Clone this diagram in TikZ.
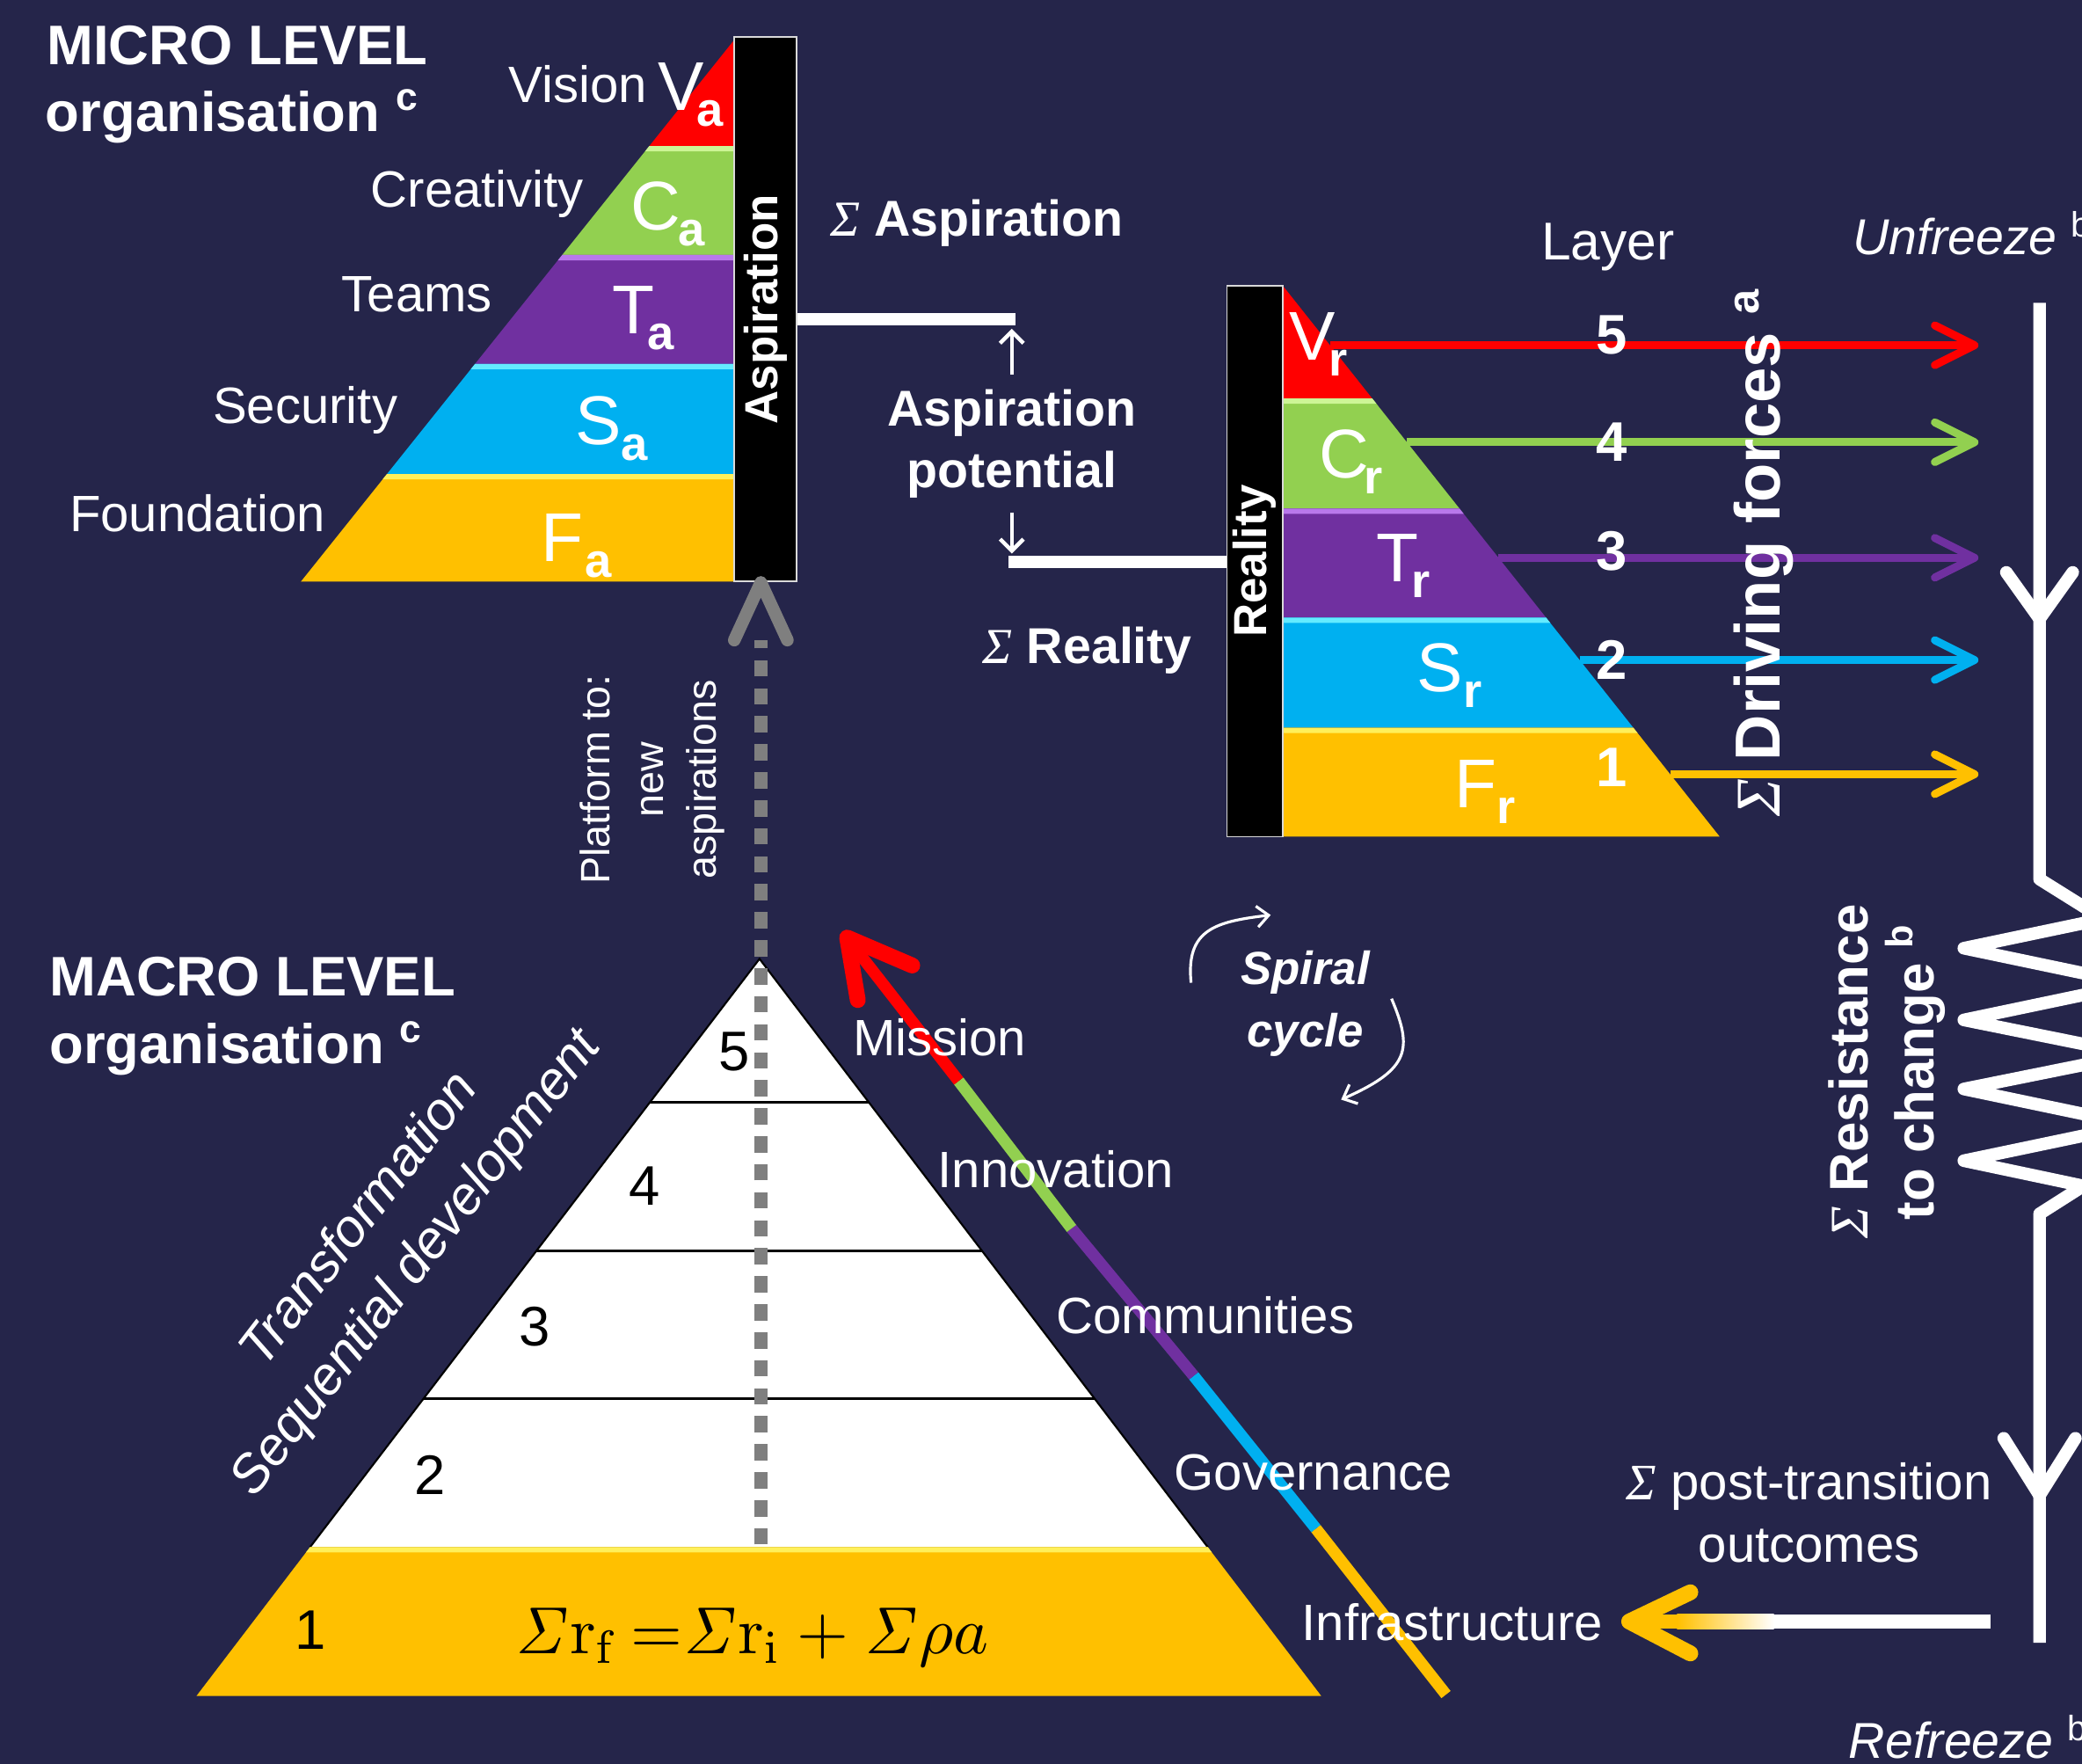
\documentclass[tikz,border=0pt]{standalone}
\usepackage[no-math]{fontspec}
\setmainfont{Liberation Sans}
\newfontfamily\sigfont{Liberation Serif}
\usepackage{graphicx}
\usetikzlibrary{arrows.meta}
\definecolor{bg}{RGB}{37,37,74}
\definecolor{cred}{RGB}{255,0,0}
\definecolor{cgreen}{RGB}{146,208,80}
\definecolor{cpurple}{RGB}{112,48,160}
\definecolor{cblue}{RGB}{0,176,240}
\definecolor{cyellow}{RGB}{255,192,0}
\definecolor{hgreen}{RGB}{205,245,150}
\definecolor{hpurple}{RGB}{185,120,235}
\definecolor{hblue}{RGB}{100,235,255}
\definecolor{hyellow}{RGB}{255,240,90}
\definecolor{cgray}{RGB}{127,127,127}
\newcommand\Sig{{\sigfont\mdseries\itshape Σ}}
\newcommand\LL[3]{{\fontsize{29.6}{30}\selectfont #1}\kern#3\raisebox{-6.8pt}{\fontsize{20.5}{21}\selectfont\bfseries #2}}
\tikzset{
 lab/.style={text=white, inner sep=0pt, font=\fontsize{21.9}{26.5}\selectfont},
 blab/.style={text=white, inner sep=0pt, font=\bfseries\fontsize{21.6}{26.5}\selectfont},
 headtxt/.style={text=white, inner sep=0pt, anchor=base west, font=\bfseries\fontsize{23.9}{28}\selectfont},
 letter/.style={text=white, inner sep=0pt, anchor=base west},
 barbox/.style={fill=black, draw=white!85!black, line width=0.7pt, inner sep=0pt},
 bartext/.style={text=white, inner sep=0pt, font=\bfseries\fontsize{19.9}{22}\selectfont, rotate=90},
 wline/.style={white, line width=5.1pt},
 thinarr/.style={white, line width=1.7pt, -{Straight Barb[length=5pt,width=10pt]}},
 farrow/.style={line width=3.4pt, -{Straight Barb[length=17pt,width=17pt,round]}},
 chev/.style={line cap=round, line join=round},
 lnum/.style={text=white, inner sep=0pt, font=\bfseries\fontsize{23.9}{26}\selectfont},
 mnum/.style={text=black, inner sep=0pt, font=\fontsize{23.9}{26}\selectfont},
 spir/.style={white, line width=1.2pt, -{Straight Barb[length=5pt,width=9pt]}},
}
\begin{document}
\begin{tikzpicture}[x=0.02cm,y=-0.02cm]
\useasboundingbox (0,0) rectangle (1568,1328);
\fill[bg] (0,0) rectangle (1568,1328);
\begin{scope}
\clip (0,0) rectangle (1568,1328);
% ---------------- MICRO pyramid
\fill[cred] (553,30) -- (553,110) -- (489,110) -- cycle;
\fill[cgreen] (489,110) -- (553,110) -- (553,192) -- (423.4,192) -- cycle;
\fill[cpurple] (423.4,192) -- (553,192) -- (553,274) -- (357.8,274) -- cycle;
\fill[cblue] (357.8,274) -- (553,274) -- (553,357) -- (291.4,357) -- cycle;
\fill[cyellow] (291.4,357) -- (553,357) -- (553,438) -- (226.6,438) -- cycle;
\fill[hgreen] (489,110) -- (553,110) -- (553,114) -- (485.8,114) -- cycle;
\fill[hpurple] (423.4,192) -- (553,192) -- (553,196) -- (420.2,196) -- cycle;
\fill[hblue] (357.8,274) -- (553,274) -- (553,278) -- (354.6,278) -- cycle;
\fill[hyellow] (291.4,357) -- (553,357) -- (553,361) -- (288.2,361) -- cycle;
\node[barbox, minimum width=26.7pt, minimum height=233.3pt] (asp) at (576.5,233) {};
\node[bartext] at (asp.center) {Aspiration};
\node[letter] at (495,83) {\LL{V}{a}{-3pt}};
\node[letter] at (475,173) {\LL{C}{a}{-1pt}};
\node[letter] at (461,251) {\LL{T}{a}{-3pt}};
\node[letter] at (433,335) {\LL{S}{a}{0pt}};
\node[letter] at (407,423) {\LL{F}{a}{1pt}};
\node[lab, anchor=base west] at (383,77) {Vision};
\node[lab, anchor=base west] at (279,156) {Creativity};
\node[lab, anchor=base west] at (257,235) {Teams};
\node[lab, anchor=base west] at (160,319) {Security};
\node[lab, anchor=base west] at (52,400) {Foundation};
\node[headtxt] at (35,49) {MICRO LEVEL};
\node[headtxt] at (34,99) {organisation \textsuperscript{c}};
% ---------------- REALITY pyramid
\fill[cred] (966,215) -- (1033.4,300) -- (966,300) -- cycle;
\fill[cgreen] (966,300) -- (1033.4,300) -- (1099.2,383) -- (966,383) -- cycle;
\fill[cpurple] (966,383) -- (1099.2,383) -- (1164.3,465) -- (966,465) -- cycle;
\fill[cblue] (966,465) -- (1164.3,465) -- (1230.1,548) -- (966,548) -- cycle;
\fill[cyellow] (966,548) -- (1230.1,548) -- (1295.1,630) -- (966,630) -- cycle;
\fill[hgreen] (966,300) -- (1033.4,300) -- (1036.6,304) -- (966,304) -- cycle;
\fill[hpurple] (966,383) -- (1099.2,383) -- (1102.4,387) -- (966,387) -- cycle;
\fill[hblue] (966,465) -- (1164.3,465) -- (1167.5,469) -- (966,469) -- cycle;
\fill[hyellow] (966,548) -- (1230.1,548) -- (1233.3,552) -- (966,552) -- cycle;
\node[barbox, minimum width=23.9pt, minimum height=236.2pt] (real) at (945,422.5) {};
\node[bartext] at (real.center) {Reality};
% connectors between bars
\coordinate (pU) at (762,240.5);
\coordinate (pD) at (762,423);
\draw[wline] (asp.east |- pU) -- ([xshift=1.4pt]pU);
\draw[wline] ([xshift=-1.4pt]pD) -- (real.west |- pD);
\node[blab, align=center] (apot) at (762,334) {Aspiration\\potential};
\draw[thinarr, shorten >=4pt] ([yshift=6pt]apot.north) -- (pU);
\draw[thinarr, shorten >=3.5pt] ([yshift=-6pt]apot.south) -- (pD);
\node[blab] at (735.5,168) {\Sig{} Aspiration};
\node[blab] at (819,490) {\Sig{} Reality};
% driving force arrows
\coordinate (h5) at (1001.7,260); \coordinate (e5) at (1490,260);
\coordinate (h4) at (1059.6,333); \coordinate (e4) at (1490,333);
\coordinate (h3) at (1128.6,420); \coordinate (e3) at (1490,420);
\coordinate (h2) at (1189.6,497); \coordinate (e2) at (1490,497);
\coordinate (h1) at (1257.8,583); \coordinate (e1) at (1490,583);
\draw[farrow, cred] (h5) -- (e5);
\draw[farrow, cgreen] (h4) -- (e4);
\draw[farrow, cpurple] (h3) -- (e3);
\draw[farrow, cblue] (h2) -- (e2);
\draw[farrow, cyellow] (h1) -- (e1);
\node[letter] at (971,271) {\LL{V}{r}{-3pt}};
\node[letter] at (993,360) {\LL{C}{r}{-2pt}};
\node[letter] at (1036,438) {\LL{T}{r}{-3pt}};
\node[letter] at (1067,521) {\LL{S}{r}{0pt}};
\node[letter] at (1095,608) {\LL{F}{r}{0pt}};
\node[lab, font=\fontsize{22.8}{26}\selectfont] at (1211,186) {Layer};
\node[lnum] at (1214,252) {5};
\node[lnum] at (1214,333) {4};
\node[lnum] at (1214,415) {3};
\node[lnum] at (1214,497) {2};
\node[lnum] at (1214,578) {1};
\node[rotate=90, text=white, inner sep=0pt, font=\bfseries\fontsize{27.3}{30}\selectfont] at (1328,416) {\Sig{} Driving forces \textsuperscript{a}};
% ---------------- right column
\node[lab, anchor=base west, font=\itshape\fontsize{21.6}{26}\selectfont] at (1395,192) {Unfreeze \textsuperscript{\upshape b}};
\node[lab, anchor=base west, font=\itshape\fontsize{21.6}{26}\selectfont] at (1392,1324) {Refreeze \textsuperscript{\upshape b}};
\coordinate (rtop) at (1536,228);
\coordinate (rbot) at (1536,1237);
\draw[white, line width=5.4pt, line join=round] (rtop) -- (1536,662) -- (1584,692) -- (1479,714) -- (1608,741) -- (1479,768) -- (1608,794) -- (1479,820) -- (1608,847) -- (1479,874) -- (1569,893) -- (1536,914) -- (rbot);
\draw[white, chev, line width=5.4pt] (1511,431) -- (1536,466) -- (1561,431);
\draw[white, chev, line width=5.4pt] (1509,1083) -- (1536,1126) -- (1563,1083);
\node[rotate=90, text=white, inner sep=0pt, align=center, font=\bfseries\fontsize{23.3}{28.5}\selectfont] at (1421,807) {\Sig{} Resistance\\to change \textsuperscript{b}};
\node[lab, align=center] at (1362.5,1139) {\Sig{} post-transition\\outcomes};
% gradient arrow to Infrastructure
\coordinate (gS) at (1499,1221);
\coordinate (gT) at (1227,1221);
\fill[white] (1335,1215.5) rectangle (gS |- 0,1226.5);
\shade[left color=cyellow, right color=white] (1263,1215.5) rectangle (1336,1226.5);
\fill[cyellow] (1240,1215.5) rectangle (1264,1226.5);
\draw[cyellow, chev, line width=6.8pt] (1273,1199) -- (gT) -- (1273,1245);
% ---------------- MACRO pyramid
\fill[white] (572,722) -- (909.6,1165) -- (233.5,1165) -- cycle;
\draw[black, line width=1pt] (489.5,830) -- (654.3,830) (403.9,942) -- (739.6,942) (319.1,1053) -- (824.2,1053);
\draw[black, line width=0.8pt] (233.5,1165) -- (572,722) -- (909.6,1165);
\fill[cyellow] (233.5,1165) -- (909.6,1165) -- (995,1277) -- (148,1277) -- cycle;
\fill[hyellow] (233.5,1165) -- (909.6,1165) -- (912.7,1169) -- (230.4,1169) -- cycle;
\node[mnum] at (553,792) {5};
\node[mnum] at (485.5,893) {4};
\node[mnum] at (403,999) {3};
\node[mnum] at (324,1111) {2};
\node[mnum] at (234,1227.5) {1};
\node[inner sep=0pt] at (566,1233) {\scalebox{2.85}{$\mathit{\Sigma}\mathrm{r}_{\mathrm{f}}\,{=}\mathit{\Sigma}\mathrm{r}_{\mathrm{i}}+\mathit{\Sigma}\rho a$}};
% dashed platform arrow
\coordinate (mb) at (573,1163);
\coordinate (mt) at (573,482);
\draw[cgray, line width=5.7pt, dash pattern=on 7pt off 5pt] (mb) -- (mt);
\draw[cgray, chev, line width=5.4pt] (553,482) -- (asp.south -| mb) -- (593,482);
\node[rotate=90, text=white, inner sep=0pt, align=center, font=\fontsize{17.6}{22.8}\selectfont] at (491.5,587) {Platform to:\\new\\aspirations};
% spiral ladder arrow
\coordinate (s0) at (1089,1276);
\coordinate (s1) at (991,1151);
\coordinate (s2) at (899,1036);
\coordinate (s3) at (807,925);
\coordinate (s4) at (722,814);
\coordinate (s5) at (638,706);
\draw[cyellow, line width=5pt] (s0) -- (s1);
\draw[cblue, line width=5pt] (s1) -- (s2);
\draw[cpurple, line width=5pt] (s2) -- (s3);
\draw[cgreen, line width=5pt] (s3) -- (s4);
\draw[cred, line width=5pt] (s4) -- (644,714);
\draw[cred, chev, line width=6.8pt] (646,753) -- (s5) -- (687,727);
\node[lab, anchor=base west] at (642,795) {Mission};
\node[lab, anchor=base west] at (706,894) {Innovation};
\node[lab, anchor=base west] at (795,1004) {Communities};
\node[lab, anchor=base west] at (884,1122) {Governance};
\node[lab, anchor=base west] at (980,1235) {Infrastructure};
\node[text=white, inner sep=0pt, align=center, font=\bfseries\itshape\fontsize{19.9}{26.7}\selectfont] at (983,756) {Spiral\\cycle};
\draw[spir] (897,740) .. controls (893,700) and (915,694) .. (957,689);
\draw[spir] (1048,752) .. controls (1064,790) and (1062,805) .. (1010,828);
\node[headtxt] at (37,750) {MACRO LEVEL};
\node[headtxt] at (37,801) {organisation \textsuperscript{c}};
\node[rotate=52.5, text=white, inner sep=0pt, align=center, font=\itshape\fontsize{22.8}{30.7}\selectfont] at (293,935.5) {Transformation\\Sequential development};
\end{scope}
\end{tikzpicture}
\end{document}
